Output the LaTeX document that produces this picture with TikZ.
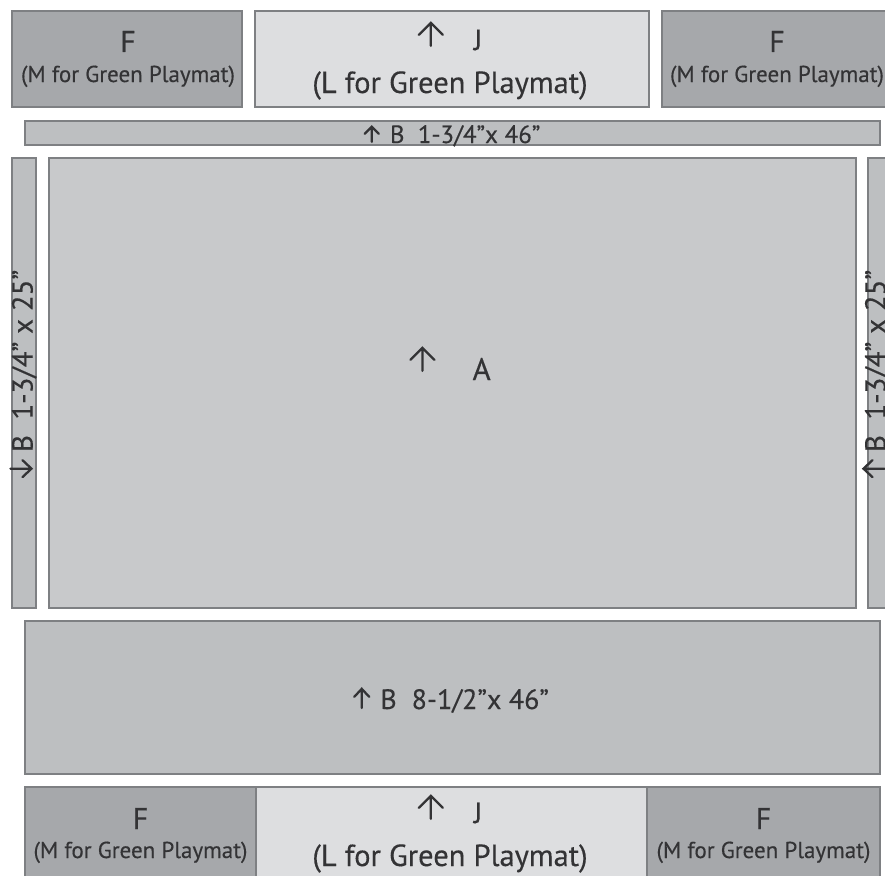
\documentclass[tikz,border=0pt]{standalone}
\usepackage{fontspec}
\setmainfont{PT Sans}[FakeBold=0.3]
\newcommand{\fsz}[1]{\fontsize{#1}{#1}\selectfont}
\definecolor{fdark}{HTML}{A6A8AB}
\definecolor{jlight}{HTML}{DDDEE0}
\definecolor{bstrip}{HTML}{BDBFC1}
\definecolor{amain}{HTML}{C8C9CB}
\definecolor{edgegray}{HTML}{7E8083}
\definecolor{textc}{HTML}{333335}
\newsavebox\arrbig
\newsavebox\arrmid
\newsavebox\arrsmall
\newsavebox\arrdown
\newsavebox\arrup
\newcommand{\mkarrow}[2]{\sbox#1{\begin{pgfpicture}\pgfsetlinewidth{2.3pt}\pgfsetstrokecolor{textc}\pgfsetroundcap\pgfsetmiterjoin #2\pgfusepath{stroke}\end{pgfpicture}}}
\newcommand{\amv}[2]{\pgfpathmoveto{\pgfpoint{#1pt}{#2pt}}}
\newcommand{\aln}[2]{\pgfpathlineto{\pgfpoint{#1pt}{#2pt}}}
\begin{document}
\mkarrow\arrbig{\amv{0}{0}\aln{0}{23}\amv{-12}{11}\aln{0}{23}\aln{12}{11}}%
\mkarrow\arrmid{\amv{0}{0}\aln{0}{19}\amv{-7.5}{11}\aln{0}{19}\aln{7.5}{11}}%
\mkarrow\arrsmall{\amv{0}{0}\aln{0}{15}\amv{-7}{8}\aln{0}{15}\aln{7}{8}}%
\mkarrow\arrdown{\amv{0}{21}\aln{0}{0}\amv{-8.5}{9}\aln{0}{0}\aln{8.5}{9}}%
\mkarrow\arrup{\amv{0}{0}\aln{0}{21}\amv{-8.5}{12}\aln{0}{21}\aln{8.5}{12}}%
\begin{tikzpicture}[x=1pt,y=-1pt,
  piece/.style={draw=edgegray, line width=1.3pt, inner sep=0pt, outer sep=0pt},
  fpiece/.style={piece, fill=fdark},
  jpiece/.style={piece, fill=jlight},
  bpiece/.style={piece, fill=bstrip},
  apiece/.style={piece, fill=amain},
  lbl/.style={text=textc, inner sep=0pt, anchor=base}]
\useasboundingbox (0,0) rectangle (885,875);
\clip (0,0) rectangle (885,875);
\fill[white] (0,0) rectangle (885,875);
% top row
\node[fpiece, minimum width=230pt, minimum height=96pt] (fTL) at (127,59) {};
\node[jpiece, minimum width=394pt, minimum height=96pt] (jT) at (452,59) {};
\node[fpiece, minimum width=230pt, minimum height=96pt] (fTR) at (777,59) {};
% top strip
\node[bpiece, minimum width=855pt, minimum height=24pt] (bTop) at (452.5,133) {};
% middle
\node[bpiece, minimum width=24pt, minimum height=450pt] (bL) at (24,383) {};
\node[apiece, minimum width=807pt, minimum height=450pt] (aM) at (452.5,383) {};
\node[bpiece, minimum width=24pt, minimum height=450pt] (bR) at (880,383) {};
% bottom strip
\node[bpiece, minimum width=855pt, minimum height=153pt] (bBot) at (452.5,697.5) {};
% bottom row
\node[fpiece, minimum width=231pt, minimum height=96pt] (fBL) at (140.5,835) {};
\node[jpiece, minimum width=391pt, minimum height=96pt] (jB) at (451.5,835) {};
\node[fpiece, minimum width=233pt, minimum height=96pt] (fBR) at (763.5,835) {};
% labels top row
\node[lbl] (tFTL1) at (128,52) {\fsz{30}F};
\node[lbl] (tFTL2) at (128,82) {\fsz{23}(M for Green Playmat)};
\node[lbl] (tJT1) at (450,50) {\fsz{29}\raisebox{3pt}{\usebox\arrbig}\hspace{30pt}J};
\node[lbl] (tJT2) at (450,93) {\fsz{30.5}(L for Green Playmat)};
\node[lbl] (tFTR1) at (777,52) {\fsz{30}F};
\node[lbl] (tFTR2) at (777,82) {\fsz{23}(M for Green Playmat)};
% strip labels
\node[lbl] (tBTop) at (452,143) {\fsz{25}\usebox\arrsmall\hspace{10pt}B\ \ 1-3/4”x 46”};
\node[text=textc, inner sep=0pt, rotate=90] (tBL) at (23,374) {\fsz{29}\usebox\arrdown\hspace{7pt}B\ \ 1-3/4” x 25”};
\node[text=textc, inner sep=0pt, rotate=90] (tBR) at (876,374) {\fsz{29}\usebox\arrup\hspace{7pt}B\ \ 1-3/4” x 25”};
\node[lbl] (tA) at (450,380) {\fsz{31}\raisebox{8pt}{\usebox\arrbig}\hspace{37pt}A};
\node[lbl] (tBBot) at (451,709) {\fsz{28}\usebox\arrmid\hspace{10pt}B\ \ 8-1/2”x 46”};
% bottom row labels
\node[lbl] (tFBL1) at (140.5,829) {\fsz{30}F};
\node[lbl] (tFBL2) at (140.5,858) {\fsz{23}(M for Green Playmat)};
\node[lbl] (tJB1) at (450,823) {\fsz{29}\raisebox{3pt}{\usebox\arrbig}\hspace{30pt}J};
\node[lbl] (tJB2) at (450,866) {\fsz{30.5}(L for Green Playmat)};
\node[lbl] (tFBR1) at (763.5,829) {\fsz{30}F};
\node[lbl] (tFBR2) at (763.5,858) {\fsz{23}(M for Green Playmat)};
\end{tikzpicture}
\end{document}
